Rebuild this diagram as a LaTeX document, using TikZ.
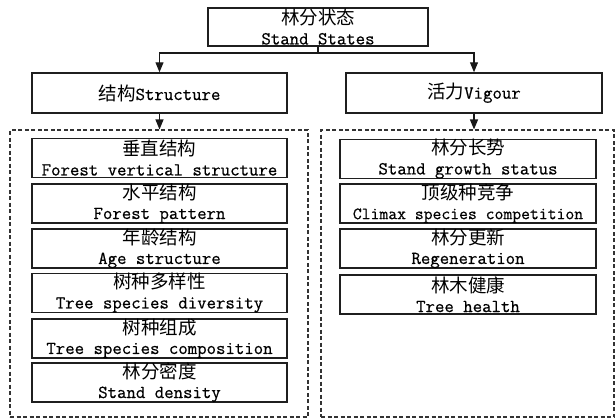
\documentclass[tikz,border=0pt]{standalone}
\usepackage{fontspec}
\newfontfamily\cjk{Noto Sans CJK SC}
\setmonofont[FakeBold=0.6]{Latin Modern Mono}
\usetikzlibrary{arrows.meta}
\newcommand{\zh}[1]{{\cjk\fontsize{18.5}{19.5}\selectfont #1}}
\tikzset{
  box/.style={draw=black!88, line width=1.5pt, fill=white, align=center, inner sep=0pt,
    font=\ttfamily\fontsize{18.3}{19.5}\selectfont},
  ibox/.style={box, minimum width=255pt, minimum height=39pt},
  dbox/.style={draw=black!80, line width=1.1pt, dash pattern=on 4pt off 2.5pt},
  conn/.style={draw=black!90, line width=1.2pt},
  arr/.style={conn, -{Triangle[length=10pt,width=8pt]}}
}
\begin{document}
\begin{tikzpicture}[x=1pt,y=-1pt]
\useasboundingbox (0,0) rectangle (616,418);
% top
\node[box, minimum width=220pt, minimum height=38pt] (top) at (318,27) {\zh{林分状态}\\Stand States};
\coordinate (j) at (318,53);
% level 2
\node[box, minimum width=255pt, minimum height=40pt] (s) at (159.5,93) {\zh{结构}Structure};
\node[box, minimum width=256pt, minimum height=40pt] (v) at (474,93) {\zh{活力}Vigour};
% dashed containers
\node[dbox, minimum width=298pt, minimum height=287pt, inner sep=0pt] (ld) at (159,273.5) {};
\node[dbox, minimum width=293pt, minimum height=287pt, inner sep=0pt] (rd) at (467.5,273.5) {};
% connectors
\draw[conn] (top.south) -- (j);
\draw[arr] (j) -| (s.north);
\draw[arr] (j) -| (v.north);
\draw[arr] (s.south) -- (s.south |- ld.north);
\draw[arr] (v.south) -- (v.south |- rd.north);
% left items
\node[ibox] (l1) at (159.5,158)   {\zh{垂直结构}\\Forest vertical structure};
\node[ibox] (l2) at (159.5,203.5) {\zh{水平结构}\\Forest pattern};
\node[ibox] (l3) at (159.5,248.5) {\zh{年龄结构}\\Age structure};
\node[ibox] (l4) at (159.5,293)   {\zh{树种多样性}\\Tree species diversity};
\node[ibox] (l5) at (159.5,338.5) {\zh{树种组成}\\Tree species composition};
\node[ibox] (l6) at (159.5,382.5) {\zh{林分密度}\\Stand density};
% right items
\node[ibox, minimum width=256pt] (r1) at (468,159)   {\zh{林分长势}\\Stand growth status};
\node[ibox, minimum width=256pt] (r2) at (468,203.5) {\zh{顶级种竞争}\\{\fontsize{17.2}{19.5}\selectfont Climax species competition}};
\node[ibox, minimum width=256pt] (r3) at (468,248.5) {\zh{林分更新}\\Regeneration};
\node[ibox, minimum width=256pt] (r4) at (468,294.5) {\zh{林木健康}\\Tree health};
\end{tikzpicture}
\end{document}
